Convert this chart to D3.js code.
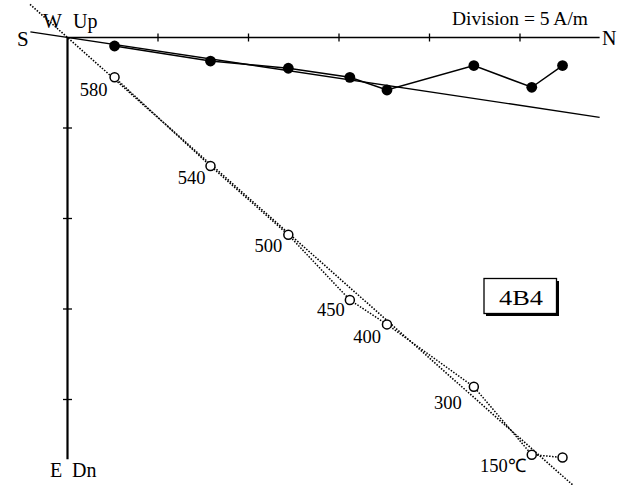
<!DOCTYPE html>
<html>
<head>
<meta charset="utf-8">
<script src="https://cdn.jsdelivr.net/npm/d3@7"></script>
<style>
  html, body { margin: 0; padding: 0; background: #fff; }
  svg { display: block; }
  text { font-family: "Liberation Serif", "Times New Roman", serif; fill: #000; }
</style>
</head>
<body>
<svg id="chart" width="620" height="485"></svg>
<script>
// Demagnetization steps (°C); first step is NRM (unlabelled)
const steps = ["NRM", "150", "300", "400", "450", "500", "540", "580"];
const stepLabels = ["", "150℃", "300", "400", "450", "500", "540", "580"];
// Components in A/m
const north = [27.35, 25.65, 22.45, 17.65, 15.6, 12.2, 7.9, 2.6];
const east  = [1.55, 2.75, 1.55, 2.9, 2.2, 1.7, 1.3, 0.47];   // horizontal plane (filled)
const down  = [23.2, 23.05, 19.3, 15.85, 14.5, 10.9, 7.1, 2.2]; // vertical plane (open)
// Principal component directions through the origin (A/m end points)
const fitHorizontal = [[-2.05, -0.31], [29.4, 4.41]];
const fitVertical   = [[-2.07, -1.83], [28.0, 24.8]];
const axisTicks = { north: [5, 10, 15, 20, 25], down: [5, 10, 15, 20] };
const axisMax = { north: 29.4, down: 23.3 };
const division = "Division = 5 A/m";
const specimen = "4B4";

// label nudges (px) relative to each open point
const labelNudge = [[0, 0], [-6, 17], [-12, 22], [-6, 19], [-5, 16], [-6, 17], [-5, 18], [-7, 19]];

const svg = d3.select("#chart");
const unit = 18.1;
const x = d3.scaleLinear().domain([0, axisMax.north]).range([67.5, 67.5 + axisMax.north * unit]);
const y = d3.scaleLinear().domain([0, axisMax.down]).range([37.5, 37.5 + axisMax.down * unit]);

// axes
const axes = svg.append("g").attr("stroke", "#000").attr("fill", "none");
axes.append("line")
  .attr("x1", x(0)).attr("x2", x(axisMax.north))
  .attr("y1", y(0)).attr("y2", y(0)).attr("stroke-width", 1.6);
axes.append("line")
  .attr("x1", x(0)).attr("x2", x(0))
  .attr("y1", y(0)).attr("y2", y(axisMax.down)).attr("stroke-width", 2.2);
axes.selectAll(".tx").data(axisTicks.north).join("line")
  .attr("x1", d => x(d)).attr("x2", d => x(d))
  .attr("y1", y(0) - 4).attr("y2", y(0) + 4).attr("stroke-width", 1.3);
axes.selectAll(".ty").data(axisTicks.down).join("line")
  .attr("x1", x(0) - 4.5).attr("x2", x(0) + 4.5)
  .attr("y1", d => y(d)).attr("y2", d => y(d)).attr("stroke-width", 1.3);

// fit lines
const line = d3.line().x(d => x(d[0])).y(d => y(d[1]));
svg.append("path").attr("d", line(fitHorizontal))
  .attr("fill", "none").attr("stroke", "#000").attr("stroke-width", 1.4);
svg.append("path").attr("d", line(fitVertical))
  .attr("fill", "none").attr("stroke", "#000").attr("stroke-width", 1.6)
  .attr("stroke-dasharray", "1.5 1.5");

// vertical-plane path (dotted) and horizontal-plane path (solid)
const vPts = north.map((n, i) => [n, down[i]]);
const hPts = north.map((n, i) => [n, east[i]]);
svg.append("path").attr("d", line(vPts))
  .attr("fill", "none").attr("stroke", "#000").attr("stroke-width", 1.5)
  .attr("stroke-dasharray", "1.5 1.5");
svg.append("path").attr("d", line(hPts))
  .attr("fill", "none").attr("stroke", "#000").attr("stroke-width", 1.5);

svg.selectAll(".hp").data(hPts).join("circle")
  .attr("cx", d => x(d[0])).attr("cy", d => y(d[1])).attr("r", 5.4)
  .attr("fill", "#000");
svg.selectAll(".vp").data(vPts).join("circle")
  .attr("cx", d => x(d[0])).attr("cy", d => y(d[1])).attr("r", 4.5)
  .attr("fill", "#fff").attr("stroke", "#000").attr("stroke-width", 1.5);

// step labels
svg.selectAll(".lbl").data(vPts).join("text")
  .attr("x", (d, i) => x(d[0]) + labelNudge[i][0])
  .attr("y", (d, i) => y(d[1]) + labelNudge[i][1])
  .attr("text-anchor", "end")
  .attr("font-size", 18.5)
  .text((d, i) => stepLabels[i]);

// axis direction labels
const dir = [
  ["S", 17, 46, 21], ["W", 43, 28, 20], ["Up", 73, 28, 20],
  ["N", 602, 45, 20], ["E", 50, 477, 20], ["Dn", 72, 477, 20]
];
svg.selectAll(".dir").data(dir).join("text")
  .attr("x", d => d[1]).attr("y", d => d[2]).attr("font-size", d => d[3])
  .text(d => d[0]);

svg.append("text").attr("x", 452).attr("y", 25)
  .attr("font-size", 18.5)
  .attr("textLength", 136).attr("lengthAdjust", "spacingAndGlyphs")
  .text(division);

// specimen box with drop shadow
const box = svg.append("g");
box.append("rect").attr("x", 486).attr("y", 281).attr("width", 73).attr("height", 35).attr("fill", "#000");
box.append("rect").attr("x", 484).attr("y", 278.5).attr("width", 72.5).attr("height", 35)
  .attr("fill", "#fff").attr("stroke", "#000").attr("stroke-width", 1.3);
box.append("text").attr("x", 499).attr("y", 305)
  .attr("font-size", 20)
  .attr("textLength", 44).attr("lengthAdjust", "spacingAndGlyphs")
  .text(specimen);
</script>
</body>
</html>
